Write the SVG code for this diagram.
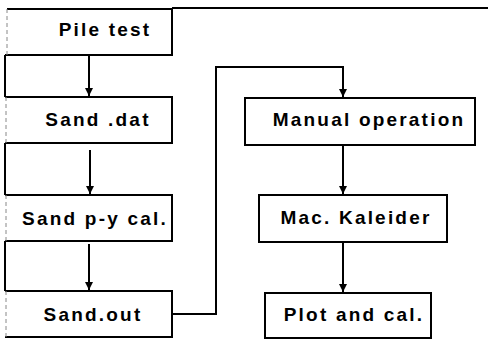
<svg xmlns="http://www.w3.org/2000/svg" width="488" height="339" viewBox="0 0 488 339">
<style>
.b{fill:#fff;stroke:#000;stroke-width:2}
.fl{stroke:#888;stroke-width:1;stroke-dasharray:4 3;fill:none}
.c{fill:none;stroke:#000;stroke-width:2}
text{font-family:"Liberation Sans",Arial,sans-serif;font-weight:bold;font-size:19px;letter-spacing:2.2px;fill:#000;text-anchor:middle}
</style>
<defs>
<marker id="a" viewBox="0 0 10 10" refX="10" refY="5" markerWidth="9" markerHeight="8" orient="auto" markerUnits="userSpaceOnUse">
<path d="M0,0 L10,5 L0,10 Z" fill="#000"/>
</marker>
</defs>
<rect width="488" height="339" fill="#fff"/>
<g id="connectors">
<path class="c" d="M172,8 H488"/>
<path class="c" d="M5,55 V97 M5,143 V195 M5,241 V291"/>
<path class="c" d="M89,55 V96" marker-end="url(#a)"/>
<path class="c" d="M90,150 V194" marker-end="url(#a)"/>
<path class="c" d="M89,244 V290" marker-end="url(#a)"/>
<path class="c" d="M172,314 H216 V67 H343 V97" marker-end="url(#a)"/>
<path class="c" d="M343,145 V194" marker-end="url(#a)"/>
<path class="c" d="M343,242 V292" marker-end="url(#a)"/>
</g>
<g id="n1"><path class="c" d="M7,9 H172 V55 H5"/><path class="fl" d="M7,9 V55"/><text x="105" y="36">Pile test</text></g>
<g id="n2"><path class="c" d="M5,97 H172 V143 H5"/><path class="fl" d="M6,97 V143"/><text x="98" y="126">Sand .dat</text></g>
<g id="n3"><path class="c" d="M5,195 H172 V241 H5"/><path class="fl" d="M6,195 V241"/><text x="95" y="225">Sand p-y cal.</text></g>
<g id="n4"><path class="c" d="M5,291 H172 V337 H5"/><path class="fl" d="M6,291 V337"/><text x="93" y="321">Sand.out</text></g>
<g id="n5"><rect class="b" x="245" y="98" width="230" height="47"/><text x="369" y="126">Manual operation</text></g>
<g id="n6"><rect class="b" x="259" y="195" width="188" height="47"/><text x="356" y="224">Mac. Kaleider</text></g>
<g id="n7"><rect class="b" x="265" y="293" width="166" height="45"/><text x="354" y="321">Plot and cal.</text></g>
</svg>
